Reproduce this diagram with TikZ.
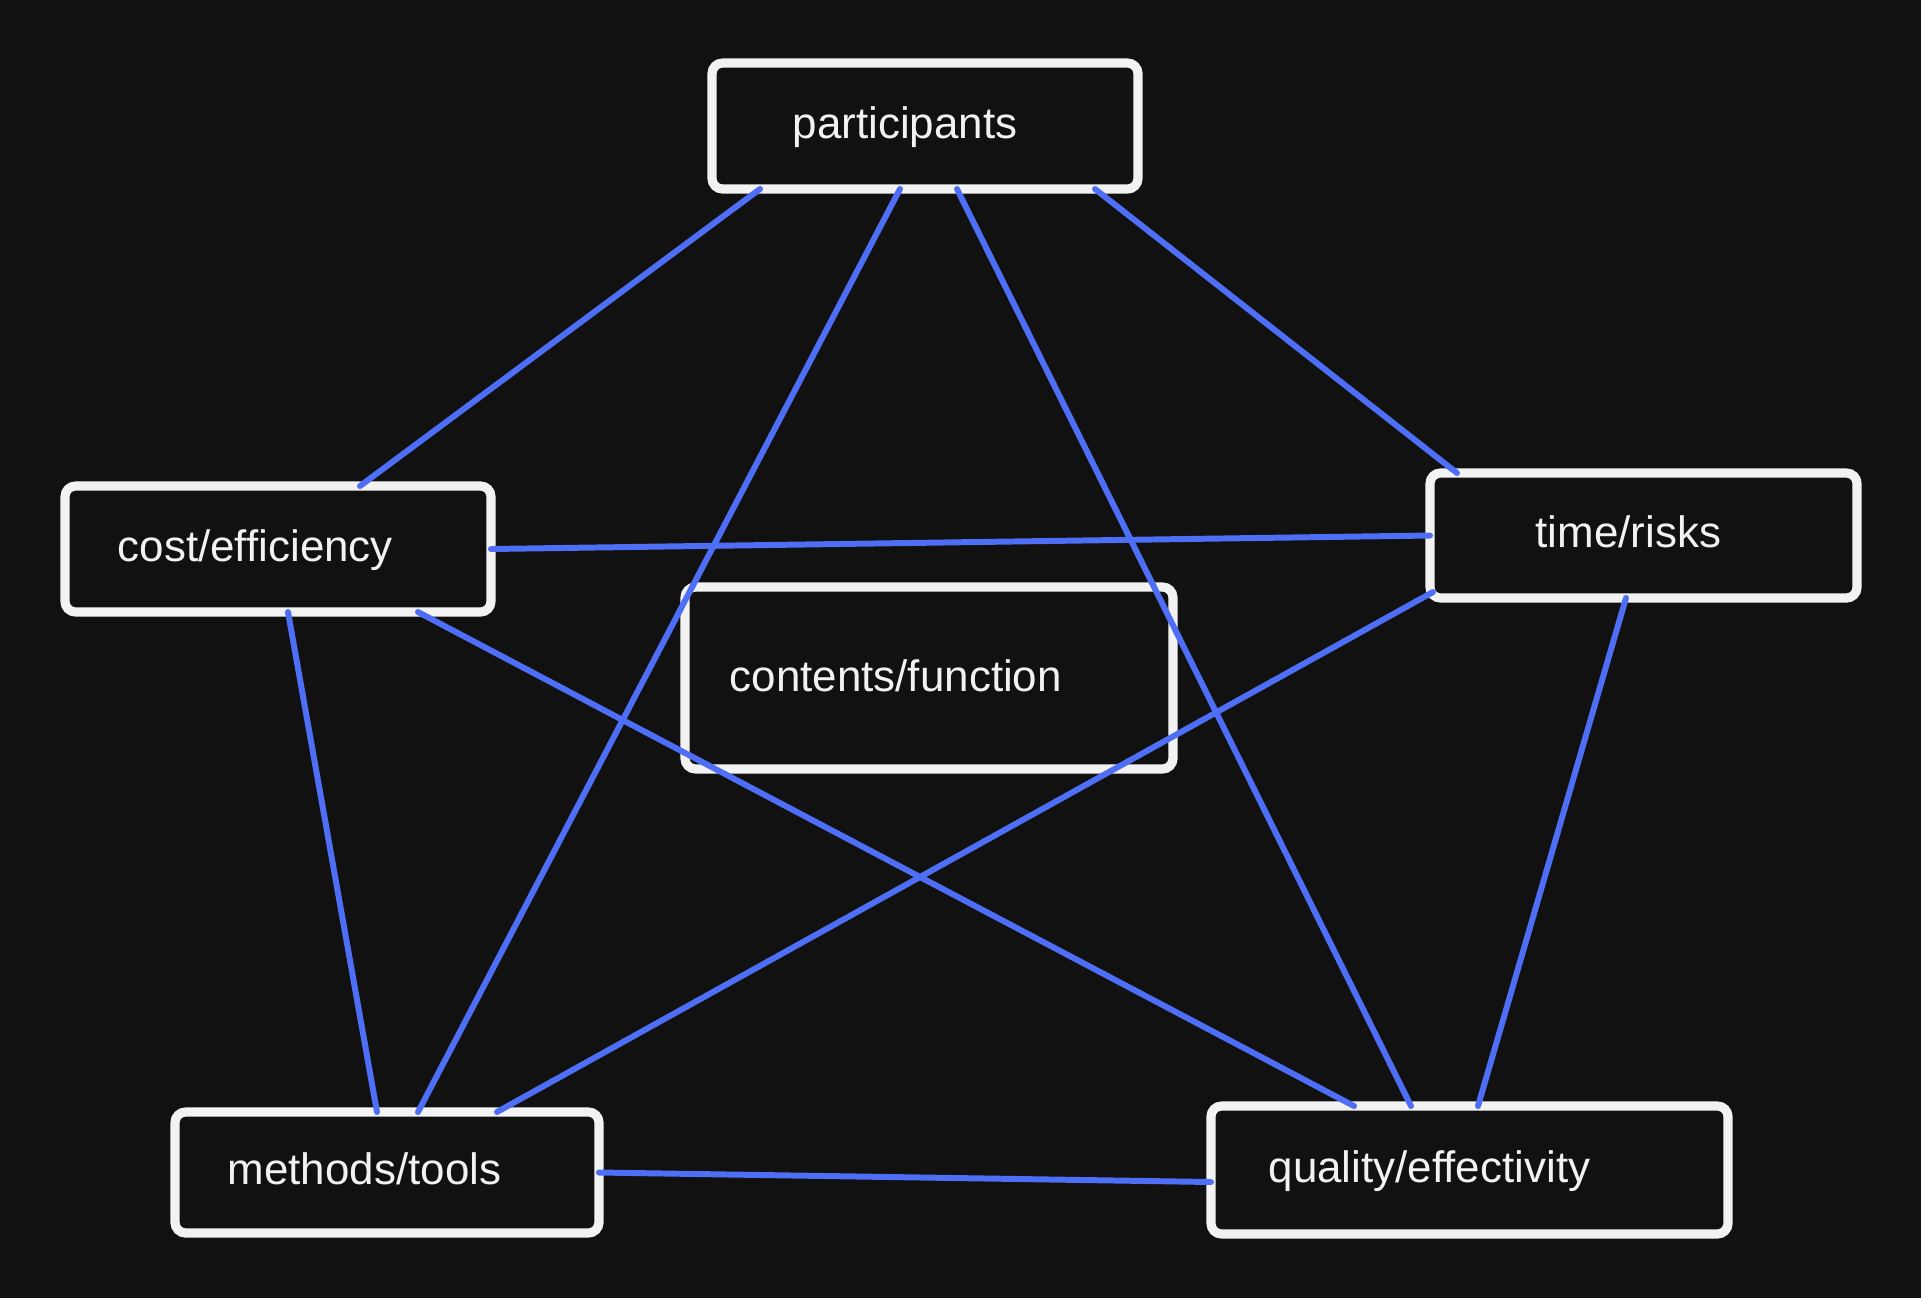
\documentclass[tikz,border=0pt]{standalone}
\usepackage{fontspec}
\setmainfont{Liberation Sans}
\usepackage{xcolor}
\usepackage{tikz}
\usetikzlibrary{positioning,calc}
\definecolor{bgdark}{HTML}{111111}
\definecolor{rimwhite}{HTML}{F2F2F2}
\definecolor{linkblue}{HTML}{4D6EF5}
\tikzset{
  topic/.style={rectangle, rounded corners=3pt, draw=rimwhite, fill=bgdark,
    line width=2.6pt, inner sep=0pt, outer sep=0pt},
  tlbl/.style={anchor=base west, inner sep=0pt, text=rimwhite,
    font=\fontsize{12.5}{14}\selectfont},
  link/.style={draw=linkblue, line width=1.7pt, line cap=round},
}

\begin{document}
\begin{tikzpicture}
% ---- canvas ----
\fill[bgdark] (0,0) rectangle (19.21,-12.98);
\useasboundingbox (0,0) rectangle (19.21,-12.98);
% ---- topic boxes ----
\node[topic, minimum width=4.26cm, minimum height=1.26cm] (part) at (9.25,-1.26) {};
\node[topic, minimum width=4.26cm, minimum height=1.26cm] (cost) at (2.78,-5.49) {};
\node[topic, minimum width=4.27cm, minimum height=1.25cm] (time) at (16.435,-5.355) {};
\node[topic, minimum width=4.88cm, minimum height=1.82cm] (cont) at (9.29,-6.78) {};
\node[topic, minimum width=4.24cm, minimum height=1.21cm] (meth) at (3.87,-11.725) {};
\node[topic, minimum width=5.17cm, minimum height=1.28cm] (qual) at (14.695,-11.70) {};
% ---- labels ----
\node[tlbl] (part-t) at (7.92,-1.38) {participants};
\node[tlbl] (cost-t) at (1.17,-5.61) {cost/efficiency};
\node[tlbl] (time-t) at (15.35,-5.47) {time/risks};
\node[tlbl] (cont-t) at (7.29,-6.91) {contents/function};
\node[tlbl] (meth-t) at (2.27,-11.84) {methods/tools};
\node[tlbl] (qual-t) at (12.68,-11.82) {quality/effectivity};
% ---- links from participants ----
\draw[link] ([xshift=4.8mm]part.south west) -- ([xshift=29.5mm]cost.north west);
\draw[link] ([xshift=18.8mm]part.south west) -- ([xshift=24.3mm]meth.north west);
\draw[link] ([xshift=24.5mm]part.south west) -- ([xshift=20mm]qual.north west);
\draw[link] ([xshift=38.3mm]part.south west) -- ([xshift=2.7mm]time.north west);
% ---- links from cost ----
\draw[link] (cost.east) -- (time.west);
\draw[link] ([xshift=22.3mm]cost.south west) -- ([xshift=20.2mm]meth.north west);
\draw[link] ([xshift=35.3mm]cost.south west) -- ([xshift=14.3mm]qual.north west);
% ---- links from time ----
\draw[link] ([xshift=.3mm,yshift=.6mm]time.south west) -- ([xshift=32.2mm]meth.north west);
\draw[link] ([xshift=19.6mm]time.south west) -- ([xshift=26.7mm]qual.north west);
% ---- bottom link ----
\draw[link] (meth.east) -- ([yshift=-1.2mm]qual.west);
\end{tikzpicture}
\end{document}
